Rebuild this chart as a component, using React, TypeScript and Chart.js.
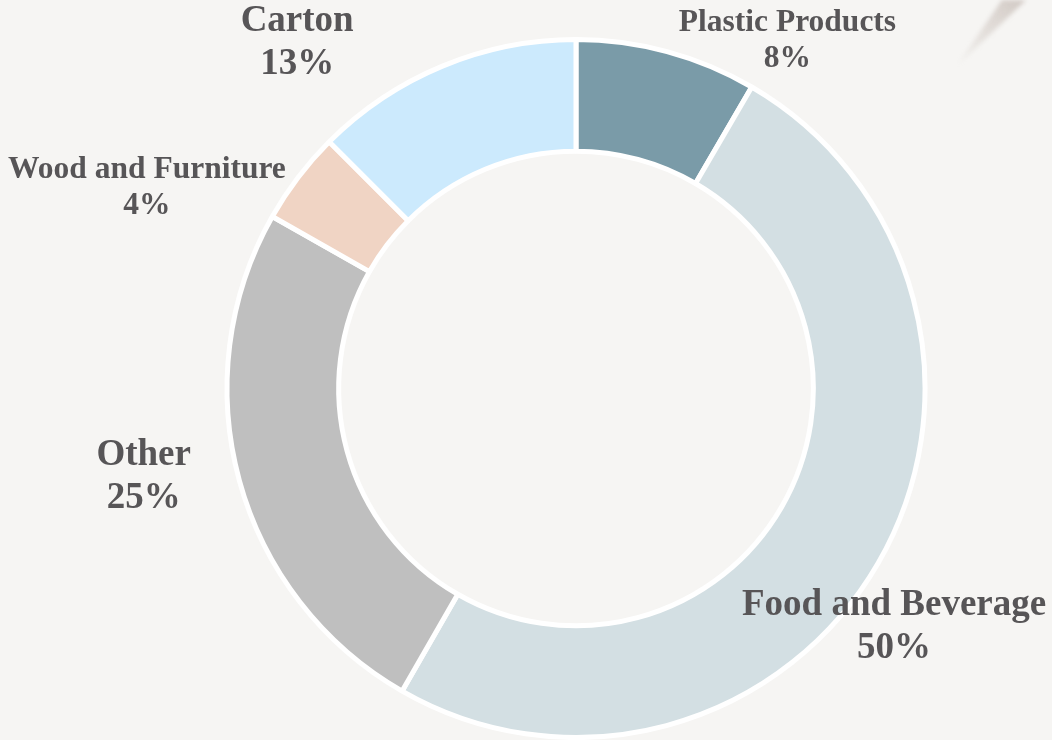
import React, { useEffect, useRef } from "react";
import { Chart, registerables } from "chart.js";

Chart.register(...registerables);

const categories = ["Plastic Products", "Food and Beverage", "Other", "Wood and Furniture", "Carton"];
const shares = [8.4, 49.9, 24.9, 4.3, 12.5];
const sliceColors = ["#7a9ba8", "#d3dfe3", "#bfbfbf", "#f0d4c4", "#cceafd"];

// label styling / placement (relative to each slice's mid-angle and outer radius)
const labelFontSizes = [31.5, 37, 37, 31.5, 37];
const labelAngleShiftDeg = [16.1, 6.7, 3.9, -12.1, -16.3];
const labelRadialGap = [59, 48, 92, 125, 96];

const BG = "#f6f5f3";
const TEXT = "#575557";
const FONT = "'Liberation Serif', 'Times New Roman', serif";

const labelPlugin = {
  id: "sliceLabels",
  afterDatasetsDraw(chart: any) {
    const ctx = chart.ctx;
    const meta = chart.getDatasetMeta(0);
    const data = chart.data.datasets[0].data as number[];
    const total = data.reduce((a: number, b: number) => a + b, 0);
    ctx.save();
    ctx.fillStyle = TEXT;
    ctx.textAlign = "center";
    ctx.textBaseline = "middle";
    meta.data.forEach((arc: any, i: number) => {
      const p = arc.getProps(["x", "y", "startAngle", "endAngle", "outerRadius"], true);
      const mid = (p.startAngle + p.endAngle) / 2 + (labelAngleShiftDeg[i] * Math.PI) / 180;
      const d = p.outerRadius + labelRadialGap[i];
      const cx = p.x + Math.cos(mid) * d;
      const cy = p.y + Math.sin(mid) * d;
      const fs = labelFontSizes[i];
      const lh = fs * 1.15;
      ctx.font = `bold ${fs}px ${FONT}`;
      const pct = Math.round((data[i] / total) * 100) + "%";
      ctx.fillText(chart.data.labels[i], cx, cy - lh / 2 + 1);
      ctx.fillText(pct, cx, cy + lh / 2 + 1);
    });
    ctx.restore();
  },
};

const decorPlugin = {
  id: "decor",
  beforeDraw(chart: any) {
    const ctx = chart.ctx;
    ctx.save();
    ctx.fillStyle = BG;
    ctx.fillRect(0, 0, chart.width, chart.height);
    // faint quill streak in the top-right corner
    const g = ctx.createLinearGradient(956, 67, 1015, 0);
    g.addColorStop(0, "rgba(200,192,186,0)");
    g.addColorStop(0.5, "rgba(205,196,190,0.45)");
    g.addColorStop(1, "rgba(200,190,184,0.75)");
    ctx.fillStyle = g;
    ctx.filter = "blur(2px)";
    ctx.beginPath();
    ctx.moveTo(956, 67);
    ctx.lineTo(1002, 0);
    ctx.lineTo(1026, 0);
    ctx.closePath();
    ctx.fill();
    ctx.restore();
  },
};

export default function App() {
  const ref = useRef<HTMLCanvasElement | null>(null);
  useEffect(() => {
    if (!ref.current) return;
    const chart = new Chart(ref.current, {
      type: "doughnut",
      data: {
        labels: categories,
        datasets: [
          {
            data: shares,
            backgroundColor: sliceColors,
            borderColor: "#ffffff",
            borderWidth: 5,
            hoverOffset: 0,
          },
        ],
      },
      options: {
        responsive: false,
        animation: false,
        cutout: "68%",
        layout: { padding: { top: 37, bottom: 0, left: 100, right: 0 } },
        plugins: {
          legend: { display: false },
          tooltip: { enabled: false },
        },
      },
      plugins: [decorPlugin, labelPlugin],
    });
    return () => chart.destroy();
  }, []);
  return (
    <div style={{ position: "fixed", left: 0, top: 0, width: 1052, height: 740, background: BG }}>
      <canvas ref={ref} width={1052} height={740} style={{ display: "block" }} />
    </div>
  );
}
